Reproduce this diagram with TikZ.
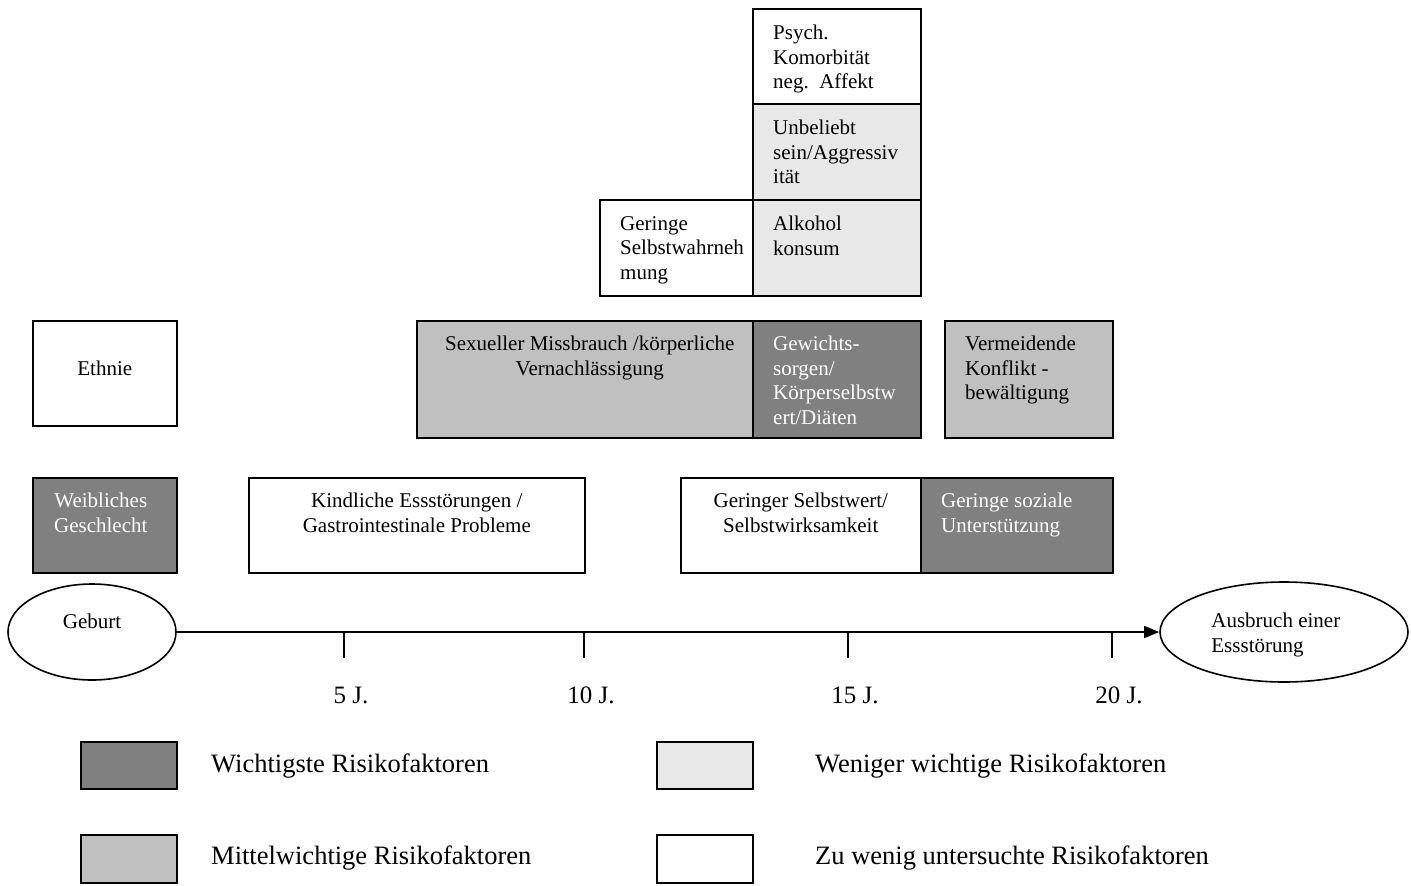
\documentclass[tikz,border=0pt]{standalone}
\usepackage{fontspec}
\setmainfont{Liberation Serif}
\usepackage{xcolor}
\usetikzlibrary{arrows.meta,shapes.geometric}

\definecolor{dunkel}{HTML}{808080}
\definecolor{mittel}{HTML}{C0C0C0}
\definecolor{hell}{HTML}{E8E8E8}

\tikzset{
  riskbox/.style={draw,line width=1.6pt,rectangle,anchor=north west,inner sep=0pt},
  boxtext/.style={inner sep=0pt,font=\fontsize{21}{24.5}\selectfont},
  legtext/.style={inner sep=0pt,anchor=west,font=\fontsize{26.5}{30}\selectfont},
  ticklabel/.style={inner sep=0pt,font=\fontsize{25}{30}\selectfont},
  endpoint/.style={draw,line width=1.6pt,ellipse,inner sep=0pt}
}

\begin{document}
\begin{tikzpicture}[x=1pt,y=-1pt]
\useasboundingbox (0,0) rectangle (1411,886);
%
\node (psych) at (752,8) [riskbox,fill=white,minimum width=168pt,minimum height=95pt] {};
\node (unbel) at (752,103) [riskbox,fill=hell,minimum width=168pt,minimum height=96pt] {};
\node (alk) at (752,199) [riskbox,fill=hell,minimum width=168pt,minimum height=96pt] {};
\node (wahrn) at (599,199) [riskbox,fill=white,minimum width=153pt,minimum height=96pt] {};
%
\node (missbr) at (416,320) [riskbox,fill=mittel,minimum width=336pt,minimum height=117pt] {};
\node (gewicht) at (752,320) [riskbox,fill=dunkel,minimum width=168pt,minimum height=117pt] {};
\node (konflikt) at (944,320) [riskbox,fill=mittel,minimum width=168pt,minimum height=117pt] {};
\node (ethnie) at (32,320) [riskbox,fill=white,minimum width=144pt,minimum height=105pt] {};
%
\node (weibl) at (32,477) [riskbox,fill=dunkel,minimum width=144pt,minimum height=95pt] {};
\node (kindl) at (248,477) [riskbox,fill=white,minimum width=336pt,minimum height=95pt] {};
\node (selbstw) at (680,477) [riskbox,fill=white,minimum width=240pt,minimum height=95pt] {};
\node (sozial) at (920,477) [riskbox,fill=dunkel,minimum width=192pt,minimum height=95pt] {};
%
\node (psych-t) at ([xshift=21pt,yshift=-17pt]psych.north west) [boxtext,anchor=north west,align=left] {Psych.\\Komorbität\\neg.\ \ Affekt};
\node (unbel-t) at ([xshift=21pt,yshift=-17pt]unbel.north west) [boxtext,anchor=north west,align=left] {Unbeliebt\\sein/Aggressiv\\ität};
\node (alk-t) at ([xshift=21pt,yshift=-17pt]alk.north west) [boxtext,anchor=north west,align=left] {Alkohol\\konsum};
\node (wahrn-t) at ([xshift=21pt,yshift=-17pt]wahrn.north west) [boxtext,anchor=north west,align=left] {Geringe\\Selbstwahrneh\\mung};
%
\node (missbr-t) at ([xshift=5pt,yshift=-16pt]missbr.north) [boxtext,anchor=north,align=center] {Sexueller Missbrauch /körperliche\\Vernachlässigung};
\node (gewicht-t) at ([xshift=21pt,yshift=-16pt]gewicht.north west) [boxtext,anchor=north west,align=left,text=white] {Gewichts-\\sorgen/\\Körperselbstw\\ert/Diäten};
\node (konflikt-t) at ([xshift=21pt,yshift=-16pt]konflikt.north west) [boxtext,anchor=north west,align=left] {Vermeidende\\Konflikt -\\bewältigung};
\node (ethnie-t) at ([yshift=5pt]ethnie.center) [boxtext] {Ethnie};
%
\node (weibl-t) at ([xshift=-4pt,yshift=-16pt]weibl.north) [boxtext,anchor=north,align=center,text=white] {Weibliches\\Geschlecht};
\node (kindl-t) at ([yshift=-16pt]kindl.north) [boxtext,anchor=north,align=center] {Kindliche Essstörungen /\\Gastrointestinale Probleme};
\node (selbstw-t) at ([yshift=-16pt]selbstw.north) [boxtext,anchor=north,align=center] {Geringer Selbstwert/\\Selbstwirksamkeit};
\node (sozial-t) at ([xshift=21pt,yshift=-16pt]sozial.north west) [boxtext,anchor=north west,align=left,text=white] {Geringe soziale\\Unterstützung};
%% Zeitachse
\node (geburt) at (92,632) [endpoint,minimum width=168pt,minimum height=96pt] {};
\node (ausbruch) at (1284,632) [endpoint,minimum width=248pt,minimum height=100pt] {};
\node (geburt-t) at ([yshift=11pt]geburt.center) [boxtext] {Geburt};
\node (ausbruch-t) at ([xshift=52pt,yshift=-3pt]ausbruch.west) [boxtext,anchor=west,align=left] {Ausbruch einer\\Essstörung};
\draw[line width=1.6pt,-{Triangle[length=15pt,width=12pt]}] (geburt.east) -- (ausbruch.west);
%
\foreach \x/\j in {344/5,584/10,848/15,1112/20} {
  \coordinate (t\j) at (\x,632);
  \draw[line width=1.6pt] (t\j) -- ++(0,26);
  \node (l\j) at ([xshift=7pt,yshift=-63pt]t\j) [ticklabel] {\j\ J.};
}
%% Legende
\node (leg1) at (80,741) [riskbox,fill=dunkel,minimum width=96pt,minimum height=47pt] {};
\node (leg2) at (656,741) [riskbox,fill=hell,minimum width=96pt,minimum height=47pt] {};
\node (leg3) at (80,834) [riskbox,fill=mittel,minimum width=96pt,minimum height=48pt] {};
\node (leg4) at (656,834) [riskbox,fill=white,minimum width=96pt,minimum height=48pt] {};
%
\node (leg1-t) at (211,766) [legtext] {Wichtigste Risikofaktoren};
\node (leg2-t) at (815,766) [legtext] {Weniger wichtige Risikofaktoren};
\node (leg3-t) at (211,858) [legtext] {Mittelwichtige Risikofaktoren};
\node (leg4-t) at (815,858) [legtext] {Zu wenig untersuchte Risikofaktoren};
\end{tikzpicture}
\end{document}
